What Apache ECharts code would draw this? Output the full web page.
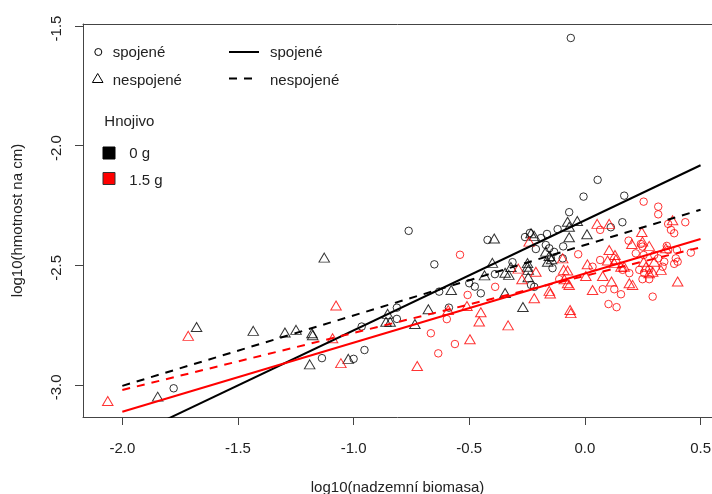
<!DOCTYPE html>
<html>
<head>
<meta charset="utf-8">
<script src="https://cdn.jsdelivr.net/npm/echarts@6/dist/echarts.min.js"></script>
<style>
  html, body { margin: 0; padding: 0; background: #fff; }
  #chart { width: 712px; height: 494px; }
</style>
</head>
<body>
<div id="chart"></div>
<script>
const xTicks = [-2.0, -1.5, -1.0, -0.5, 0.0, 0.5]
const yTicks = [-3.0, -2.5, -2.0, -1.5]

// Hnojivo 0 g, spojené (kolečka)
const black0Spoj = [
  [-0.061, -1.550], [-1.778, -3.014], [-1.137, -2.888], [-1.000, -2.891], [-0.953, -2.854],
  [-0.965, -2.756], [-0.813, -2.677], [-0.813, -2.724], [-0.762, -2.356], [-0.651, -2.496],
  [-0.630, -2.610], [-0.588, -2.677], [-0.500, -2.575], [-0.476, -2.589], [-0.450, -2.617],
  [-0.421, -2.394], [-0.389, -2.537], [-0.313, -2.487], [-0.259, -2.382], [-0.238, -2.365],
  [-0.233, -2.582], [-0.219, -2.590], [-0.164, -2.369], [-0.169, -2.415], [-0.154, -2.429],
  [-0.133, -2.444], [-0.147, -2.471], [-0.118, -2.349], [-0.094, -2.421], [-0.096, -2.471],
  [-0.140, -2.512], [-0.068, -2.278], [-0.006, -2.213], [0.055, -2.143], [0.170, -2.209],
  [0.162, -2.320], [0.112, -2.341], [-0.190, -2.386], [-0.212, -2.432]
]
// Hnojivo 0 g, nespojené (trojúhelníky)
const black0Nespoj = [
  [-1.847, -3.049], [-1.679, -2.758], [-1.434, -2.774], [-1.297, -2.781], [-1.249, -2.770],
  [-1.180, -2.784], [-1.177, -2.792], [-1.190, -2.914], [-1.127, -2.468], [-1.023, -2.891],
  [-0.853, -2.703], [-0.860, -2.736], [-0.842, -2.736], [-0.735, -2.745], [-0.677, -2.684],
  [-0.578, -2.603], [-0.434, -2.542], [-0.400, -2.490], [-0.392, -2.388], [-0.345, -2.531],
  [-0.329, -2.540], [-0.345, -2.616], [-0.320, -2.507], [-0.268, -2.674], [-0.248, -2.491],
  [-0.248, -2.506], [-0.245, -2.519], [-0.245, -2.550], [-0.233, -2.366], [-0.219, -2.377],
  [-0.169, -2.443], [-0.154, -2.461], [-0.144, -2.475], [-0.161, -2.485], [-0.075, -2.318],
  [-0.033, -2.315], [-0.068, -2.339], [-0.068, -2.383], [0.009, -2.370]
]
// Hnojivo 1.5 g, spojené
const red15Spoj = [
  [-0.540, -2.456], [-0.666, -2.784], [-0.634, -2.868], [-0.597, -2.725], [-0.562, -2.829],
  [-0.507, -2.624], [-0.388, -2.590], [-0.111, -2.558], [-0.029, -2.454], [0.066, -2.352],
  [0.066, -2.478], [0.033, -2.506], [0.077, -2.600], [0.127, -2.600], [0.156, -2.621],
  [0.102, -2.662], [0.137, -2.675], [0.163, -2.519], [0.192, -2.533], [0.189, -2.397],
  [0.220, -2.450], [0.242, -2.411], [0.249, -2.422], [0.254, -2.457], [0.235, -2.519],
  [0.256, -2.533], [0.278, -2.519], [0.249, -2.558], [0.278, -2.558], [0.293, -2.631],
  [0.254, -2.234], [0.317, -2.255], [0.317, -2.287], [0.360, -2.327], [0.372, -2.352],
  [0.386, -2.366], [0.434, -2.320], [0.354, -2.419], [0.360, -2.436], [0.398, -2.436],
  [0.458, -2.447], [0.300, -2.457], [0.317, -2.471], [0.343, -2.485], [0.336, -2.506],
  [0.393, -2.471], [0.401, -2.485], [0.386, -2.494]
]
// Hnojivo 1.5 g, nespojené
const red15Nespoj = [
  [-2.063, -3.067], [-1.715, -2.795], [-1.076, -2.668], [-1.091, -2.805], [-1.055, -2.909],
  [-0.725, -2.921], [-0.591, -2.687], [-0.510, -2.670], [-0.450, -2.696], [-0.457, -2.735],
  [-0.497, -2.809], [-0.332, -2.751], [-0.288, -2.514], [-0.272, -2.558], [-0.241, -2.401],
  [-0.212, -2.527], [-0.219, -2.638], [-0.154, -2.607], [-0.150, -2.618], [-0.096, -2.471],
  [-0.092, -2.519], [-0.075, -2.522], [-0.075, -2.575], [-0.064, -2.687], [-0.061, -2.700],
  [-0.089, -2.558], [-0.068, -2.582], [0.053, -2.327], [0.105, -2.327], [0.379, -2.312],
  [0.246, -2.361], [0.203, -2.411], [0.249, -2.401], [0.278, -2.419], [0.105, -2.436],
  [0.130, -2.457], [0.134, -2.475], [0.011, -2.496], [0.098, -2.480], [0.127, -2.491],
  [0.156, -2.506], [0.170, -2.506], [0.004, -2.545], [0.077, -2.545], [0.115, -2.568],
  [0.192, -2.575], [0.206, -2.582], [0.033, -2.603], [0.264, -2.506], [0.300, -2.485],
  [0.329, -2.519], [0.350, -2.429], [0.254, -2.485], [0.278, -2.533], [0.293, -2.527],
  [0.401, -2.568]
]

// regresní přímky
const fitX = [-2.0, 0.5]
const black0SpojFit = [-3.232, -2.082]
const black0NespojFit = [-3.004, -2.268]
const red15SpojFit = [-3.112, -2.390]
const red15NespojFit = [-3.021, -2.425]

const FONT = "'Liberation Sans', Arial, sans-serif"
const AXIS = '#444'
const X_MIN = -2.170
const X_MAX = 0.5495

const pts = (data, name, symbol, color, size) => ({
  name: name,
  type: 'scatter',
  data: data,
  symbol: symbol,
  symbolSize: size,
  itemStyle: { color: 'transparent', borderColor: color, borderWidth: 1 },
  z: 2
})
const fit = (ys, name, color, dashed) => ({
  name: name,
  type: 'line',
  data: fitX.map((x, i) => [x, ys[i]]),
  symbol: 'none',
  clip: true,
  lineStyle: { color: color, width: 2, type: dashed ? [8, 7] : 'solid' },
  z: 3
})

const chart = echarts.init(document.getElementById('chart'))
chart.setOption({
  animation: false,
  backgroundColor: '#fff',
  textStyle: { fontFamily: FONT },
  grid: { left: 83, top: 24, right: 0, bottom: 77, containLabel: false, outerBoundsMode: 'none' },
  xAxis: [
    {
      type: 'value',
      min: X_MIN, max: X_MAX,
      name: 'log10(nadzemní biomasa)',
      nameLocation: 'middle',
      nameGap: 63,
      nameTextStyle: { fontSize: 15, color: '#222', fontFamily: FONT },
      axisLine: { show: true, onZero: false, lineStyle: { color: AXIS, width: 1 } },
      axisTick: { show: true, length: 8, lineStyle: { color: AXIS }, customValues: xTicks },
      axisLabel: {
        fontSize: 15, color: '#222', margin: 24, fontFamily: FONT,
        customValues: xTicks,
        formatter: v => v.toFixed(1)
      },
      splitLine: { show: false }
    },
    {
      // horní hrana rámečku
      type: 'value',
      position: 'top',
      min: X_MIN, max: X_MAX,
      axisLine: { show: true, onZero: false, lineStyle: { color: AXIS, width: 1 } },
      axisTick: { show: false },
      axisLabel: { show: false },
      splitLine: { show: false }
    }
  ],
  yAxis: {
    type: 'value',
    min: -3.134, max: -1.4916,
    name: 'log10(hmotnost na cm)',
    nameLocation: 'middle',
    nameRotate: 90,
    nameGap: 58,
    nameTextStyle: { fontSize: 15, color: '#222', fontFamily: FONT },
    axisLine: { show: true, onZero: false, lineStyle: { color: AXIS, width: 1 } },
    axisTick: { show: true, length: 8, lineStyle: { color: AXIS }, customValues: yTicks },
    axisLabel: {
      fontSize: 15, color: '#222', margin: 19, rotate: 90, fontFamily: FONT,
      padding: [0, 5, 0, 0],
      customValues: yTicks,
      formatter: v => v.toFixed(1)
    },
    splitLine: { show: false }
  },
  series: [
    pts(black0Spoj, '0 g spojené', 'circle', '#000', 7.5),
    pts(black0Nespoj, '0 g nespojené', 'triangle', '#000', [10.5, 9]),
    pts(red15Spoj, '1.5 g spojené', 'circle', '#ff0000', 7.5),
    pts(red15Nespoj, '1.5 g nespojené', 'triangle', '#ff0000', [10.5, 9]),
    fit(black0SpojFit, '0 g spojené fit', '#000', false),
    fit(black0NespojFit, '0 g nespojené fit', '#000', true),
    fit(red15SpojFit, '1.5 g spojené fit', '#ff0000', false),
    fit(red15NespojFit, '1.5 g nespojené fit', '#ff0000', true)
  ],
  // legenda jako v R
  graphic: [
    { type: 'circle', shape: { cx: 98.3, cy: 52, r: 3.5 }, style: { fill: 'none', stroke: '#000', lineWidth: 1 } },
    { type: 'polygon', shape: { points: [[97.7, 73.5], [103, 82.5], [92.4, 82.5]] }, style: { fill: 'none', stroke: '#000', lineWidth: 1 } },
    { type: 'text', left: 112.7, top: 45, style: { text: 'spojené', font: '15px ' + FONT, fill: '#222' } },
    { type: 'text', left: 112.7, top: 73, style: { text: 'nespojené', font: '15px ' + FONT, fill: '#222' } },
    { type: 'line', shape: { x1: 229, y1: 52, x2: 259, y2: 52 }, style: { stroke: '#000', lineWidth: 2 } },
    { type: 'line', shape: { x1: 229, y1: 78.5, x2: 259, y2: 78.5 }, style: { stroke: '#000', lineWidth: 2, lineDash: [8, 7] } },
    { type: 'text', left: 270, top: 45, style: { text: 'spojené', font: '15px ' + FONT, fill: '#222' } },
    { type: 'text', left: 270, top: 73, style: { text: 'nespojené', font: '15px ' + FONT, fill: '#222' } },
    { type: 'text', left: 104.3, top: 114, style: { text: 'Hnojivo', font: '15px ' + FONT, fill: '#222' } },
    { type: 'rect', shape: { x: 103, y: 147, width: 12, height: 12 }, style: { fill: '#000', stroke: '#000', lineWidth: 1 } },
    { type: 'rect', shape: { x: 103, y: 172.5, width: 12, height: 12 }, style: { fill: '#ff0000', stroke: '#333', lineWidth: 1 } },
    { type: 'text', left: 129.3, top: 146, style: { text: '0 g', font: '15px ' + FONT, fill: '#222' } },
    { type: 'text', left: 129.3, top: 173, style: { text: '1.5 g', font: '15px ' + FONT, fill: '#222' } }
  ]
})
</script>
</body>
</html>
